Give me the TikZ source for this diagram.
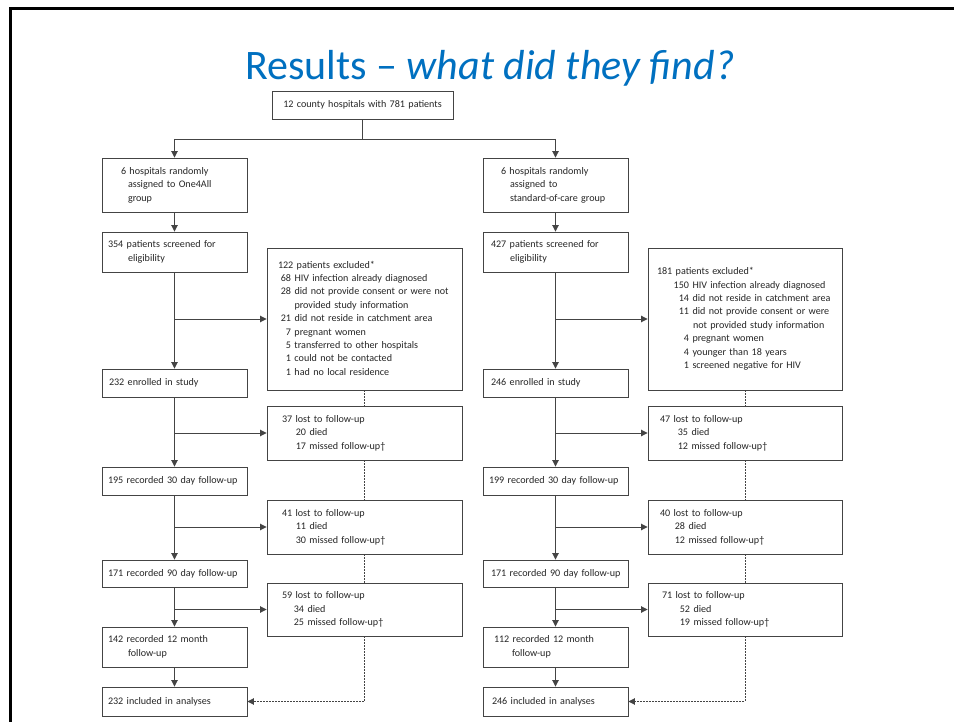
\documentclass[tikz,border=0pt]{standalone}
\usepackage{fontspec}
\setmainfont{Carlito}
\usetikzlibrary{arrows.meta}
\definecolor{titleblue}{HTML}{0070C0}
\definecolor{ink}{HTML}{262626}
\definecolor{framec}{HTML}{444444}
\newcommand\lines[1]{\begin{tabular}[c]{@{}l@{}}#1\end{tabular}}
\newcommand\itm[3]{\makebox[#1][r]{#2}\hspace{3.5pt}#3}
\begin{document}
\begin{tikzpicture}[x=1pt,y=-1pt,
  every node/.style={font=\fontsize{10.1}{13.4}\selectfont, text=ink},
  bx/.style n args={4}{draw=framec, line width=0.9pt, rectangle,
    minimum width=#1, minimum height=#2, text width=#3,
    inner xsep=#4, inner ysep=1pt, align=left},
  ln/.style={draw=framec, line width=0.9pt},
  arr/.style={draw=framec, line width=0.9pt, -{Triangle[length=6.5pt,width=6.5pt]}},
  dotln/.style={draw=framec, line width=0.9pt, dash pattern=on 1.6pt off 1.4pt},
]
\useasboundingbox[fill=white] (0,0) rectangle (954,722);
\draw[line width=3pt, black] (10,740) -- (10,8.5) -- (970,8.5);

\node[font=\fontsize{42}{50}\selectfont, text=titleblue, anchor=base] (title) at (490,80)
  {Results \textendash{} \textit{what did they find?}};

\node[bx={181pt}{28pt}{174pt}{3.5pt}, align=center] (top) at (362.5,105)
  {12 county hospitals with 781 patients};

% left column
\node[bx={145pt}{54pt}{133pt}{6pt}] (L1) at (174.5,185)
  {\lines{\hspace*{13pt}6 hospitals randomly\\\hspace*{20pt}assigned to One4All\\\hspace*{20pt}group}};
\node[bx={145pt}{40pt}{133pt}{6pt}] (L2) at (174.5,252)
  {\lines{354 patients screened for\\\hspace*{20pt}eligibility}};
\node[bx={145pt}{28pt}{133pt}{6pt}] (L3) at (174.5,383)
  {\lines{\hspace*{1pt}232 enrolled in study}};
\node[bx={145pt}{28pt}{133pt}{6pt}] (L4) at (174.5,481)
  {\lines{195 recorded 30 day follow-up}};
\node[bx={145pt}{27pt}{133pt}{6pt}] (L5) at (174.5,573.5)
  {\lines{171 recorded 90 day follow-up}};
\node[bx={145pt}{40pt}{133pt}{6pt}] (L6) at (174.5,647)
  {\lines{142 recorded 12 month\\\hspace*{20pt}follow-up}};
\node[bx={145pt}{29pt}{133pt}{6pt}] (L7) at (174.5,701.5)
  {\lines{232 included in analyses}};

% left side boxes
\node[bx={195pt}{142pt}{173pt}{11pt}] (LE) at (364.5,319)
  {\lines{122 patients excluded*\\
   \itm{13pt}{68}{HIV infection already diagnosed}\\
   \itm{13pt}{28}{did not provide consent or were not}\\
   \hspace*{16.5pt}provided study information\\
   \itm{13pt}{21}{did not reside in catchment area}\\
   \itm{13pt}{7}{pregnant women}\\
   \itm{13pt}{5}{transferred to other hospitals}\\
   \itm{13pt}{1}{could not be contacted}\\
   \itm{13pt}{1}{had no local residence}}};
\node[bx={195pt}{54pt}{165pt}{15pt}] (LF1) at (364.5,433)
  {\lines{37 lost to follow-up\\\itm{24pt}{20}{died}\\\itm{24pt}{17}{missed follow-up\textdagger}}};
\node[bx={195pt}{54pt}{165pt}{15pt}] (LF2) at (364.5,527)
  {\lines{41 lost to follow-up\\\itm{24pt}{11}{died}\\\itm{24pt}{30}{missed follow-up\textdagger}}};
\node[bx={195pt}{53pt}{165pt}{15pt}] (LF3) at (364.5,609.5)
  {\lines{59 lost to follow-up\\\itm{22pt}{34}{died}\\\itm{22pt}{25}{missed follow-up\textdagger}}};

% right column
\node[bx={145pt}{54pt}{129pt}{8pt}] (R1) at (555.5,185)
  {\lines{\hspace*{10pt}6 hospitals randomly\\\hspace*{19pt}assigned to\\\hspace*{19pt}standard-of-care group}};
\node[bx={145pt}{40pt}{129pt}{8pt}] (R2) at (555.5,252)
  {\lines{427 patients screened for\\\hspace*{19pt}eligibility}};
\node[bx={145pt}{28pt}{129pt}{8pt}] (R3) at (555.5,383)
  {\lines{246 enrolled in study}};
\node[bx={145pt}{28pt}{133pt}{6pt}] (R4) at (555.5,481)
  {\lines{199 recorded 30 day follow-up}};
\node[bx={145pt}{27pt}{129pt}{8pt}] (R5) at (555.5,573.5)
  {\lines{171 recorded 90 day follow-up}};
\node[bx={145pt}{40pt}{129pt}{8pt}] (R6) at (555.5,647)
  {\lines{\hspace*{3pt}112 recorded 12 month\\\hspace*{21pt}follow-up}};
\node[bx={145pt}{29pt}{129pt}{8pt}] (R7) at (555.5,701.5)
  {\lines{\hspace*{1pt}246 included in analyses}};

% right side boxes
\node[bx={194pt}{142pt}{176pt}{9pt}] (RE) at (745,319)
  {\lines{181 patients excluded*\\
   \itm{32pt}{150}{HIV infection already diagnosed}\\
   \itm{32pt}{14}{did not reside in catchment area}\\
   \itm{32pt}{11}{did not provide consent or were}\\
   \hspace*{36pt}not provided study information\\
   \itm{32pt}{4}{pregnant women}\\
   \itm{32pt}{4}{younger than 18 years}\\
   \itm{32pt}{1}{screened negative for HIV}}};
\node[bx={194pt}{54pt}{170pt}{12pt}] (RF1) at (745,433)
  {\lines{47 lost to follow-up\\\itm{28pt}{35}{died}\\\itm{28pt}{12}{missed follow-up\textdagger}}};
\node[bx={194pt}{54pt}{170pt}{12pt}] (RF2) at (745,527)
  {\lines{40 lost to follow-up\\\itm{25pt}{28}{died}\\\itm{25pt}{12}{missed follow-up\textdagger}}};
\node[bx={194pt}{53pt}{170pt}{12pt}] (RF3) at (745,609.5)
  {\lines{\hspace*{2pt}71 lost to follow-up\\\itm{30pt}{52}{died}\\\itm{30pt}{19}{missed follow-up\textdagger}}};

% connectors from the top box
\coordinate (hl) at (0,139);
\draw[ln] (top.south) -- (top.south |- hl);
\draw[ln] (L1.north |- hl) -- (R1.north |- hl);
\draw[arr] (L1.north |- hl) -- (L1.north);
\draw[arr] (R1.north |- hl) -- (R1.north);

% left chain
\draw[arr] (L1) -- (L2);
\draw[arr] (L2) -- (L3);
\draw[arr] (L2.south |- LE.west) -- (LE.west);
\draw[arr] (L3) -- (L4);
\draw[arr] (L3.south |- LF1.west) -- (LF1.west);
\draw[arr] (L4) -- (L5);
\draw[arr] (L4.south |- LF2.west) -- (LF2.west);
\draw[arr] (L5) -- (L6);
\draw[arr] (L5.south |- LF3.west) -- (LF3.west);
\draw[arr] (L6) -- (L7);
\draw[dotln] (LE) -- (LF1);
\draw[dotln] (LF1) -- (LF2);
\draw[dotln] (LF2) -- (LF3);
\draw[dotln, -{Triangle[length=6.5pt,width=6.5pt]}] (LF3.south) -- (LF3.south |- L7.east) -- (L7.east);

% right chain
\draw[arr] (R1) -- (R2);
\draw[arr] (R2) -- (R3);
\draw[arr] (R2.south |- RE.west) -- (RE.west);
\draw[arr] (R3) -- (R4);
\draw[arr] (R3.south |- RF1.west) -- (RF1.west);
\draw[arr] (R4) -- (R5);
\draw[arr] (R4.south |- RF2.west) -- (RF2.west);
\draw[arr] (R5) -- (R6);
\draw[arr] (R5.south |- RF3.west) -- (RF3.west);
\draw[arr] (R6) -- (R7);
\draw[dotln] (RE) -- (RF1);
\draw[dotln] (RF1) -- (RF2);
\draw[dotln] (RF2) -- (RF3);
\draw[dotln, -{Triangle[length=6.5pt,width=6.5pt]}] (RF3.south) -- (RF3.south |- R7.east) -- (R7.east);
\end{tikzpicture}
\end{document}
